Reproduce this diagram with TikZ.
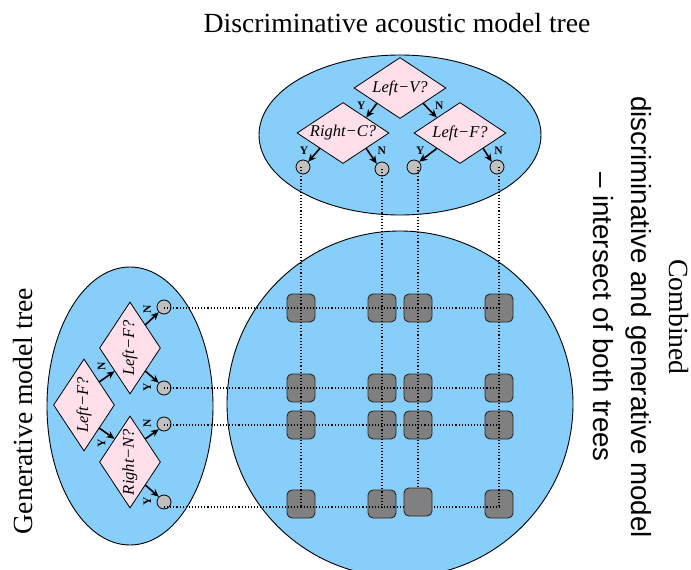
\documentclass[tikz,border=0pt]{standalone}
\usepackage{fontspec}
\setmainfont{Liberation Serif}
\setsansfont{Liberation Sans}
\usetikzlibrary{shapes.geometric,arrows.meta}
\definecolor{skyfill}{RGB}{135,206,250}
\definecolor{qfill}{RGB}{255,224,234}
\definecolor{leaffill}{RGB}{192,192,192}
\definecolor{cellfill}{RGB}{128,128,128}
\definecolor{celledge}{RGB}{40,40,40}
\tikzset{
  region/.style={draw=black, line width=0.9pt, fill=skyfill},
  question/.style={diamond, draw=black, line width=0.8pt, fill=qfill, inner sep=0pt,
    shape aspect=1.5, minimum width=92pt, minimum height=61pt,
    font=\fontsize{16.5}{18}\selectfont\itshape},
  leaf/.style={circle, draw=black, line width=0.8pt, fill=leaffill, minimum size=14pt, inner sep=0pt},
  cell/.style={rectangle, rounded corners=5pt, draw=celledge, line width=0.9pt, fill=cellfill,
    minimum size=28pt, inner sep=0pt},
  branch/.style={-{Stealth[length=8pt,width=7pt]}, line width=1.6pt},
  yes/.style={font=\fontsize{11.5}{12}\selectfont\bfseries, inner xsep=9pt, inner ysep=0pt, pos=0.15, anchor=east},
  no/.style={font=\fontsize{11.5}{12}\selectfont\bfseries, inner xsep=9pt, inner ysep=0pt, pos=0.15, anchor=west},
  link/.style={dotted, line width=1.1pt},
  caption/.style={font=\fontsize{27.7}{38}\selectfont},
}
\begin{document}
\begin{tikzpicture}[x=1pt,y=-1pt]
\clip (0,0) rectangle (691,570);

% the three regions
\draw[region] (400,135) ellipse [x radius=141, y radius=80];
\draw[region] (400,404) circle [radius=173];
\draw[region] (130,406) ellipse [x radius=83, y radius=139];

% combined cells
\foreach \c/\x in {1/301,2/382,3/418,4/499}
  \foreach \r/\y in {1/308,2/388,3/425}
    \node[cell] (s\r\c) at (\x,\y) {};
\node[cell] (s41) at (301,504) {};
\node[cell] (s42) at (382,504) {};
\node[cell] (s44) at (499,504) {};
\coordinate (bottomrow) at (0,507);

% discriminative tree
\node[question] (qV) at (400,88) {Left−V?};
\node[question] (qC) at (343,133) {Right−C?};
\node[question] (qF) at (460,133) {Left−F?};
\node[leaf] (t1) at (303,167) {};
\node[leaf] (t2) at (382,169) {};
\node[leaf] (t3) at (414,167) {};
\node[leaf] (t4) at (497,167) {};

% generative tree
\node[question, rotate=90] (gF) at (84,405) {Left−F?};
\node[question, rotate=90] (gF2) at (130,348) {Left−F?};
\node[question, rotate=90] (gN) at (130,462) {Right−N?};
\node[leaf, rotate=90] (lA) at (164,307) {};
\node[leaf, rotate=90] (lB) at (164,388) {};
\node[leaf, rotate=90] (lC) at (164,424) {};
\node[leaf, rotate=90] (lD) at (164,502) {};

% projection lines
\draw[link] (t1.center -| s11.center) -- (s11.center |- bottomrow);
\draw[link] (t2.center -| s12.center) -- (s12.center |- bottomrow);
\draw[link] (t3.center -| s13.center) -- (s13.center |- bottomrow);
\draw[link] (t4.center -| s14.center) -- (s14.center |- bottomrow);
\draw[link] (lA.center |- s11.center) -- (s14.center);
\draw[link] (lB.center |- s21.center) -- (s24.center);
\draw[link] (lC.center |- s31.center) -- (s34.center);
\draw[link] (lD.center |- bottomrow) -- (s44.center |- bottomrow);
\node[cell] (s43) at (418,502) {};

% branches of the discriminative tree
\draw[branch] (qV.south west) -- node[yes]{Y} (qC.north east);
\draw[branch] (qV.south east) -- node[no]{N} (qF.north west);
\draw[branch] (qC.south west) -- node[yes]{Y} (t1.north east);
\draw[branch] (qC.south east) -- node[no]{N} (t2.north west);
\draw[branch] (qF.south west) -- node[yes]{Y} (t3.north east);
\draw[branch] (qF.south east) -- node[no]{N} (t4.north west);

% branches of the generative tree
\draw[branch] (gF.south west) -- node[yes, rotate=90]{Y} (gN.north east);
\draw[branch] (gF.south east) -- node[no, rotate=90]{N} (gF2.north west);
\draw[branch] (gF2.south west) -- node[yes, rotate=90]{Y} (lB.north east);
\draw[branch] (gF2.south east) -- node[no, rotate=90]{N} (lA.north west);
\draw[branch] (gN.south west) -- node[yes, rotate=90]{Y} (lD.north east);
\draw[branch] (gN.south east) -- node[no, rotate=90]{N} (lC.north west);

% captions
\node[caption, anchor=base] (dtitle) at (397,32) {Discriminative acoustic model tree};
\node[caption, rotate=90] (gtitle) at (23.5,411) {Generative model tree};
\node[caption, rotate=-90, align=center] (ctitle) at (641,317)
  {Combined\\{\sffamily discriminative and generative model}\\{\sffamily – intersect of both trees}};
\end{tikzpicture}
\end{document}
